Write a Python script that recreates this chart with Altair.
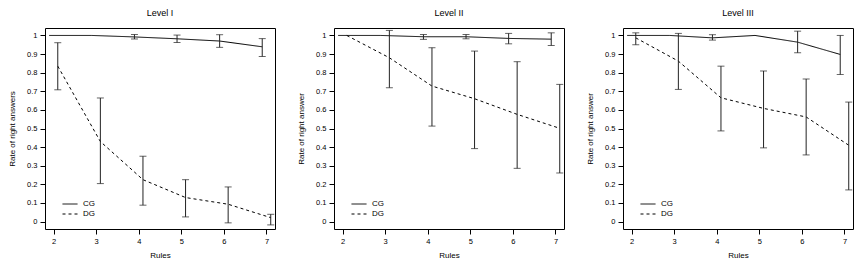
import altair as alt
import pandas as pd

rules = [2, 3, 4, 5, 6, 7]
y_ticks = [0, 0.1, 0.2, 0.3, 0.4, 0.5, 0.6, 0.7, 0.8, 0.9, 1]
levels = ["Level I", "Level II", "Level III"]
y_titles = ["Rate of right answers", "Rate of right answer", "Rate of right answer"]
groups = ["CG", "DG"]

# Level I
l1_cg = [1.0, 1.0, 0.992, 0.982, 0.970, 0.939]
l1_cg_lo = [1.0, 1.0, 0.981, 0.962, 0.936, 0.887]
l1_cg_hi = [1.0, 1.0, 1.005, 1.002, 1.004, 0.983]
l1_dg = [0.835, 0.430, 0.225, 0.129, 0.093, 0.021]
l1_dg_lo = [0.708, 0.204, 0.088, 0.025, -0.007, -0.018]
l1_dg_hi = [0.961, 0.664, 0.351, 0.225, 0.186, 0.039]

# Level II
l2_cg = [1.0, 1.0, 0.993, 0.993, 0.984, 0.980]
l2_cg_lo = [1.0, 1.0, 0.979, 0.982, 0.955, 0.946]
l2_cg_hi = [1.0, 1.0, 1.005, 1.005, 1.011, 1.014]
l2_dg = [1.0, 0.880, 0.728, 0.660, 0.576, 0.501]
l2_dg_lo = [1.0, 0.719, 0.513, 0.392, 0.286, 0.261]
l2_dg_hi = [1.0, 1.027, 0.934, 0.916, 0.859, 0.737]

# Level III
l3_cg = [1.0, 1.0, 0.987, 1.0, 0.964, 0.898]
l3_cg_lo = [1.0, 1.0, 0.975, 1.0, 0.907, 0.790]
l3_cg_hi = [1.0, 1.0, 1.004, 1.0, 1.023, 1.0]
l3_dg = [0.987, 0.862, 0.665, 0.608, 0.562, 0.410]
l3_dg_lo = [0.950, 0.710, 0.487, 0.396, 0.358, 0.170]
l3_dg_hi = [1.014, 1.011, 0.835, 0.809, 0.766, 0.642]

series = [
    (l1_cg, l1_cg_lo, l1_cg_hi, l1_dg, l1_dg_lo, l1_dg_hi),
    (l2_cg, l2_cg_lo, l2_cg_hi, l2_dg, l2_dg_lo, l2_dg_hi),
    (l3_cg, l3_cg_lo, l3_cg_hi, l3_dg, l3_dg_lo, l3_dg_hi),
]

FONT = "Liberation Sans"
OFFSET = 0.1

xscale = alt.Scale(domain=[1.8, 7.2], nice=False, zero=False)
yscale = alt.Scale(domain=[-0.04, 1.04], nice=False, zero=False)


def panel(i):
    cg, cg_lo, cg_hi, dg, dg_lo, dg_hi = series[i]
    rows = []
    for g, m, lo, hi in (("CG", cg, cg_lo, cg_hi), ("DG", dg, dg_lo, dg_hi)):
        for r, a, b, c in zip(rules, m, lo, hi):
            rows.append({"group": g, "rules": r, "mean": a, "lo": b, "hi": c})
    df = pd.DataFrame(rows)
    base = alt.Chart(df).transform_calculate(
        xp=f"datum.rules + (datum.group == 'CG' ? -{OFFSET} : {OFFSET})"
    )
    xaxis = alt.Axis(values=rules, format="d", domain=False, grid=False, tickSize=5,
                     tickColor="black", labelPadding=3, titlePadding=7,
                     labelOverlap=False)
    yaxis = alt.Axis(values=y_ticks, format="~g", domain=False,
                     grid=False, tickSize=5, tickColor="black", labelPadding=3,
                     titlePadding=10, labelOverlap=False, tickCount=11)

    def X():
        return alt.X("xp:Q", scale=xscale, axis=xaxis, title="Rules")

    def Y(field):
        return alt.Y(field, type="quantitative", scale=yscale, axis=yaxis,
                     title=y_titles[i])

    line = base.mark_line(color="black", strokeWidth=1).encode(
        x=X(),
        y=Y("mean"),
        strokeDash=alt.StrokeDash(
            "group:N",
            scale=alt.Scale(domain=groups, range=[[1, 0], [3, 3]]),
            legend=alt.Legend(title=None, orient="none", legendX=17, legendY=172,
                              symbolType="stroke", symbolSize=225,
                              symbolStrokeColor="black", symbolStrokeWidth=1,
                              labelFontSize=8, labelFont=FONT, labelColor="black",
                              clipHeight=8, rowPadding=2, labelOffset=5,
                              padding=0),
        ),
    )
    eb = base.transform_filter("datum.hi > datum.lo")
    bars = eb.mark_rule(color="#222", strokeWidth=1).encode(
        x=X(), y=Y("lo"), y2="hi:Q")
    cap_lo = eb.mark_tick(orient="horizontal", size=7, thickness=1, color="#222").encode(
        x=X(), y=Y("lo"))
    cap_hi = eb.mark_tick(orient="horizontal", size=7, thickness=1, color="#222").encode(
        x=X(), y=Y("hi"))
    return alt.layer(line, bars, cap_lo, cap_hi).properties(
        width=230, height=201,
        title=alt.TitleParams(levels[i], fontSize=9, fontWeight=400, font=FONT,
                              offset=10, color="black"),
    )


chart = alt.hconcat(panel(0), panel(1), panel(2), spacing=21).resolve_legend(
    strokeDash="independent"
).properties(padding=0).configure_view(stroke="black", strokeWidth=1).configure_axis(
    labelFont=FONT, titleFont=FONT, labelFontSize=7.5, titleFontSize=8,
    labelColor="black", titleColor="black", titleFontWeight=400,
    labelOverlap=False,
).configure_axisY(labelAngle=0)

chart.save("out.html", embed_options={"renderer": "svg", "actions": False})
